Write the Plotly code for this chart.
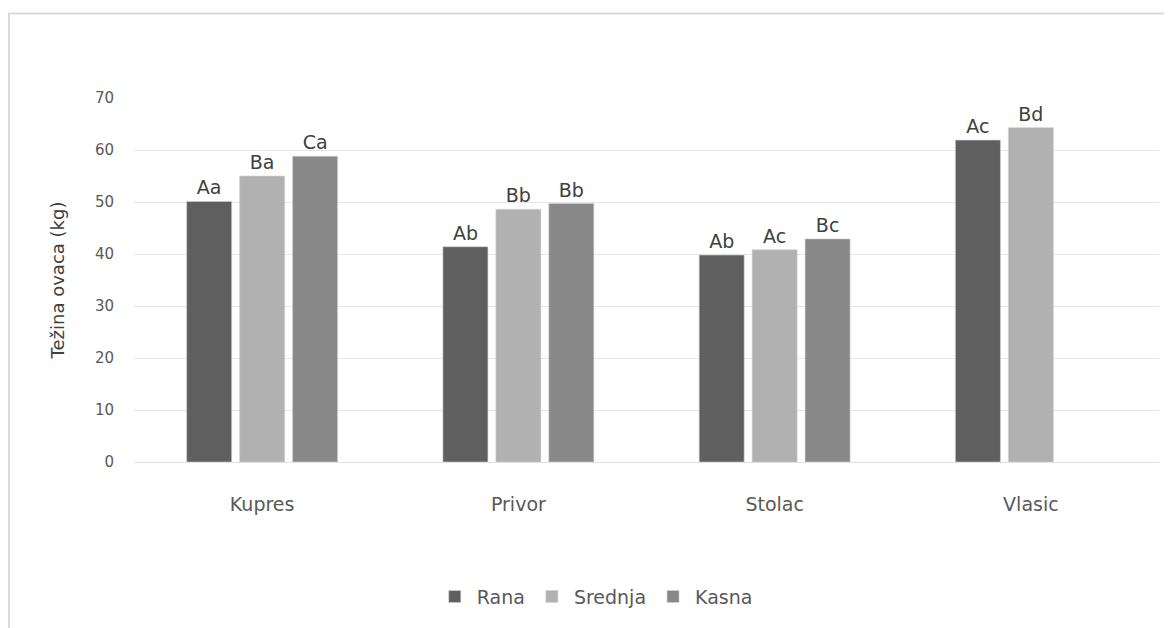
import plotly.graph_objects as go

locations = ["Kupres", "Privor", "Stolac", "Vlasic"]
series_names = ["Rana", "Srednja", "Kasna"]
rana = [50.1, 41.4, 39.8, 61.9]
srednja = [55.0, 48.6, 40.8, 64.3]
kasna = [58.8, 49.7, 42.9, None]
rana_labels = ["Aa", "Ab", "Ab", "Ac"]
srednja_labels = ["Ba", "Bb", "Ac", "Bd"]
kasna_labels = ["Ca", "Bb", "Bc", ""]
y_ticks = [0, 10, 20, 30, 40, 50, 60, 70]

colors = ["#5f5f5f", "#b1b1b1", "#888888"]
values = [rana, srednja, kasna]
labels = [rana_labels, srednja_labels, kasna_labels]

FONT = "DejaVu Sans"

fig = go.Figure()
for name, vals, txt, col in zip(series_names, values, labels, colors):
    fig.add_trace(go.Bar(
        x=locations,
        y=vals,
        name=name,
        text=txt,
        textposition="outside",
        textfont=dict(size=19, color="#404040", family=FONT),
        marker=dict(color=col, line=dict(color="#d0d0d0", width=0.6)),
        cliponaxis=False,
    ))

# page body adds an 8px offset, so the figure is drawn 8px smaller
fig.update_layout(
    width=1164,
    height=620,
    margin=dict(l=126, r=13, t=90, b=160),
    paper_bgcolor="white",
    plot_bgcolor="white",
    barmode="group",
    bargap=0.38,
    bargroupgap=0.15,
    font=dict(family=FONT, color="#595959"),
    uniformtext=dict(minsize=19, mode="show"),
    showlegend=True,
    legend=dict(
        orientation="h",
        x=0.45, xanchor="center",
        y=-0.37, yanchor="middle",
        font=dict(size=19, color="#595959"),
        traceorder="normal",
        itemwidth=34,
    ),
    shapes=[dict(
        type="rect", xref="paper", yref="paper",
        x0=-0.122, x1=1.05, y0=-0.6, y1=1.232,
        line=dict(color="#dadada", width=2),
        layer="below",
    )],
)

fig.update_yaxes(
    range=[0, 70],
    tickvals=y_ticks,
    showgrid=True,
    gridcolor="#e6e6e6",
    gridwidth=1,
    zeroline=False,
    showline=False,
    tickfont=dict(size=15, color="#595959"),
    ticklabelstandoff=19,
    title=dict(text="Težina ovaca (kg)", font=dict(size=18, color="#404040"), standoff=25),
)
fig.update_xaxes(
    showline=True,
    linecolor="#e0e0e0",
    linewidth=1,
    tickfont=dict(size=19, color="#595959"),
    ticklabelstandoff=25,
    ticks="",
)

fig.write_html("out.html")
